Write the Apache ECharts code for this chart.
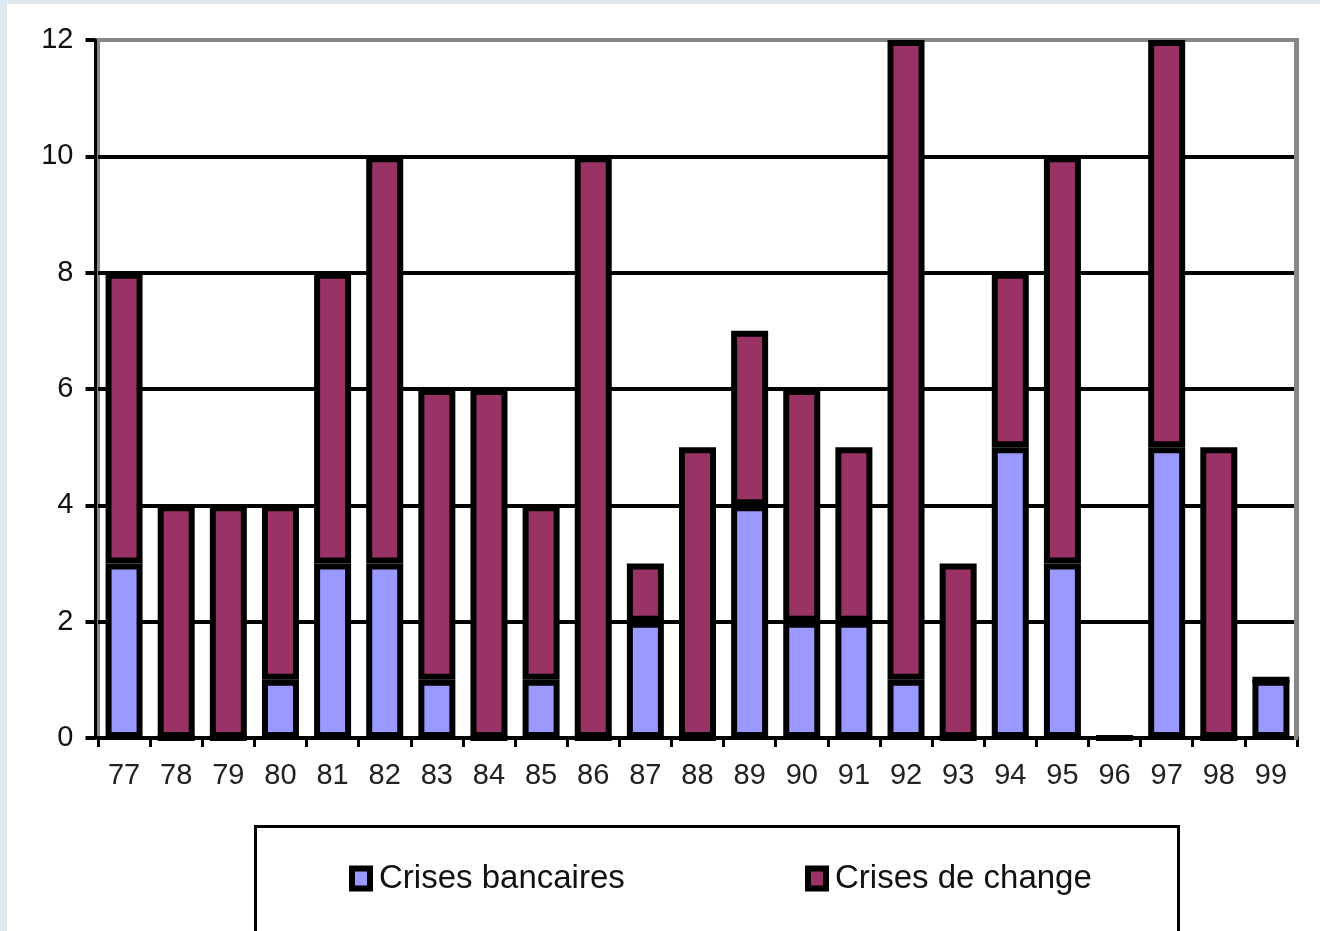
<!DOCTYPE html>
<html>
<head>
<meta charset="utf-8">
<script src="https://cdn.jsdelivr.net/npm/echarts@6/dist/echarts.min.js"></script>
<style>
  html, body { margin: 0; padding: 0; background: #dfe8ee; }
  #chart { position: absolute; left: 7px; top: 4px; width: 1313px; height: 927px; background: #ffffff; }
</style>
</head>
<body>
<div id="chart"></div>
<script>
// Years (two-digit labels)
const years = ['77','78','79','80','81','82','83','84','85','86','87','88','89','90','91','92','93','94','95','96','97','98','99'];
// Number of banking crises per year
const crisesBancaires = [3,0,0,1,3,3,1,0,1,0,2,0,4,2,2,1,0,5,3,0,5,0,1];
// Number of currency crises per year
const crisesDeChange  = [5,4,4,3,5,7,5,6,3,10,1,5,3,4,3,11,3,3,7,0,7,5,0];
// Value axis ticks
const yMin = 0, yMax = 12, yStep = 2;

const labelFont = "'Liberation Sans', Arial, sans-serif";
const legendFont = "'Liberation Sans', Arial, sans-serif";
const BLUE = '#9999ff', PURPLE = '#993366', GREY = '#878787';

const chart = echarts.init(document.getElementById('chart'), null, { renderer: 'canvas' });

const legendCommon = {
  orient: 'horizontal',
  top: 858,
  padding: 0,
  icon: 'rect',
  itemWidth: 18,
  itemHeight: 20,
  selectedMode: false,
  textStyle: { fontFamily: legendFont, fontSize: 33, color: '#111', padding: [0, 0, 0, 4] },
  itemStyle: { borderColor: '#000', borderWidth: 6 }
};

chart.setOption({
  animation: false,
  backgroundColor: '#ffffff',
  grid: {
    left: 91, right: 23, top: 36, bottom: 193,
    show: true, borderColor: GREY, borderWidth: 4, backgroundColor: 'transparent'
  },
  graphic: [
    {
      // legend frame
      type: 'rect', z: -1,
      shape: { x: 248.5, y: 822.5, width: 923, height: 200 },
      style: { fill: '#ffffff', stroke: '#000', lineWidth: 3 }
    },
    {
      // heavier right edge of the plot frame
      type: 'rect', z: 1,
      shape: { x: 1287, y: 34, width: 4, height: 702 },
      style: { fill: GREY }
    }
  ],
  legend: [
    Object.assign({}, legendCommon, { left: 342, data: ['Crises bancaires'] }),
    Object.assign({}, legendCommon, { left: 798, data: ['Crises de change'] })
  ],
  xAxis: {
    type: 'category',
    data: years,
    boundaryGap: true,
    axisLine: { show: true, lineStyle: { color: '#000', width: 4 } },
    axisTick: { show: true, alignWithLabel: false, length: 9, lineStyle: { color: '#000', width: 3 } },
    axisLabel: { fontFamily: labelFont, fontSize: 29, color: '#222', margin: 23, interval: 0 },
    splitLine: { show: false }
  },
  yAxis: {
    type: 'value',
    min: yMin, max: yMax, interval: yStep,
    offset: 2.5,
    axisLine: { show: true, onZero: false, lineStyle: { color: '#000', width: 3 } },
    axisTick: { show: true, length: 10, lineStyle: { color: '#000', width: 4 } },
    axisLabel: { fontFamily: labelFont, fontSize: 29, color: '#111', margin: 22, padding: [0, 0, 10, 0] },
    splitLine: {
      show: true,
      lineStyle: { color: ['#000', '#000', '#000', '#000', '#000', '#000', GREY], width: 4 }
    }
  },
  series: [
    {
      name: 'Crises bancaires', type: 'bar', stack: 'total',
      data: crisesBancaires, barWidth: 37,
      itemStyle: { color: BLUE, borderColor: '#000', borderWidth: 6 }
    },
    {
      name: 'Crises de change', type: 'bar', stack: 'total',
      data: crisesDeChange, barWidth: 37,
      itemStyle: { color: PURPLE, borderColor: '#000', borderWidth: 6 }
    }
  ]
});
</script>
</body>
</html>
